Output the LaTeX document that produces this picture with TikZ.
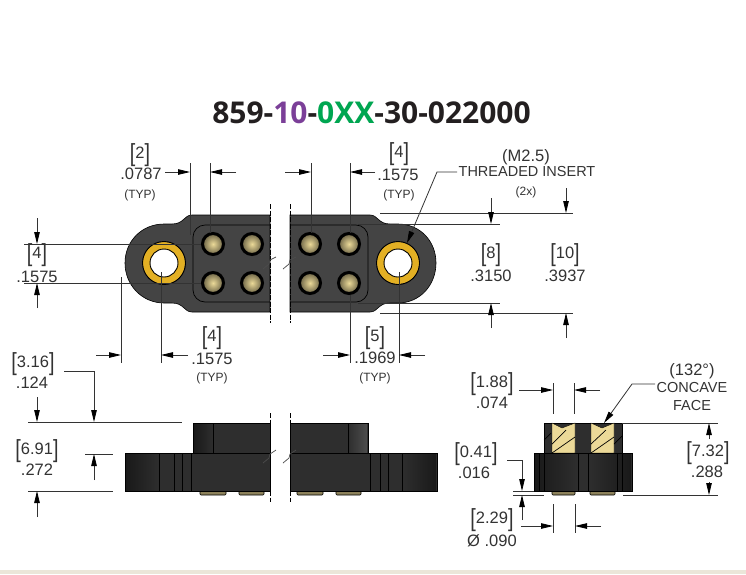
\documentclass[tikz,border=0pt]{standalone}
\usepackage{fontspec}
\setmainfont{Liberation Sans}
\newfontfamily\titlefont{Open Sans}
\usetikzlibrary{arrows.meta, positioning}
\definecolor{bodygray}{HTML}{444444}
\definecolor{sidegray}{HTML}{2E2E2E}
\definecolor{ringgold}{HTML}{E3B024}
\definecolor{brass}{HTML}{EBD998}
\definecolor{dimgray}{HTML}{333333}
\definecolor{bandtan}{HTML}{EBE6D9}
\definecolor{titledark}{HTML}{231F20}
\definecolor{titlepurple}{HTML}{7B3F98}
\definecolor{titlegreen}{HTML}{00A651}
\newcommand{\dimtxt}[1]{\fontsize{16.5}{16.5}\selectfont #1}
\newcommand{\brk}[1]{\fontsize{16.5}{16.5}\selectfont\raisebox{-0.2em}{\scalebox{1.2}[1.5]{[}}#1\raisebox{-0.2em}{\scalebox{1.2}[1.5]{]}}}
\tikzset{
    body/.style={fill=bodygray, draw=black, line width=0.6pt},
    side/.style={fill=sidegray, draw=black, line width=0.6pt},
    recess/.style={draw=black, line width=0.7pt, rounded corners=12pt},
    pinhead/.style={circle, minimum size=21pt, inner sep=0pt, draw=black, line width=3pt, inner color=brass, outer color=brass!45!black},
    ring/.style={circle, minimum size=35pt, inner sep=0pt, fill=white, draw=ringgold, line width=7pt},
    label/.style={inner sep=0pt, text=dimgray, font=\dimtxt{}},
    small/.style={inner sep=0pt, text=dimgray, font=\fontsize{12}{12}\selectfont},
    extline/.style={draw=black!80, line width=0.8pt},
    arrow/.style={draw=black!80, line width=0.8pt, -{Triangle[length=12pt, width=5.5pt, black]}},
    breakline/.style={draw=black, line width=0.7pt, dash pattern=on 5pt off 1.5pt},
    breakmark/.style={draw=black!70, line width=0.7pt},
    pinfoot/.style={fill=brass!60!black, draw=black, line width=0.6pt, rounded corners=1pt},
    hatch/.style={draw=black, line width=0.7pt}
}

\begin{document}
\begin{tikzpicture}[x=1pt, y=-1pt]

    \useasboundingbox (0,0) rectangle (746,574);
    \fill [white] (0,0) rectangle (746,574);
    \fill [bandtan] (0,570) rectangle (746,574);

    % Title
    \node (title) [inner sep=0pt] at (371.5,113) {\titlefont\bfseries\fontsize{30}{30}\selectfont \textcolor{titledark}{859-}\textcolor{titlepurple}{10}\textcolor{titledark}{-}\textcolor{titlegreen}{0XX}\textcolor{titledark}{-30-022000}};

    % Top view
    \draw [body] (270,215) -- (192,215) .. controls (184,215) and (184,224) .. (172,224) -- (164,224) .. controls (142,224) and (125,241) .. (125,263) .. controls (125,285) and (142,303) .. (164,303) -- (172,303) .. controls (184,303) and (184,312) .. (192,312) -- (270,312) -- cycle;
    \draw [body] (290,215) -- (370,215) .. controls (378,215) and (378,224) .. (390,224) -- (398,224) .. controls (420,224) and (436,241) .. (436,263) .. controls (436,285) and (420,303) .. (398,303) -- (390,303) .. controls (378,303) and (378,312) .. (370,312) -- (290,312) -- cycle;
    \draw [recess] (270,225) -- (193,225) -- (193,302) -- (270,302);
    \draw [recess] (290,225) -- (368,225) -- (368,302) -- (290,302);

    \node (holeL) [ring] at (164,263) {};
    \node (holeR) [ring] at (398,263) {};
    \draw [black, line width=0.9pt] (holeL) circle (21.5pt) (holeL) circle (14pt);
    \draw [black, line width=0.9pt] (holeR) circle (21.5pt) (holeR) circle (14pt);

    \node (pinA) [pinhead] at (213,244) {};
    \node (pinB) [pinhead] at (252,244) {};
    \node (pinC) [pinhead] at (213,283) {};
    \node (pinD) [pinhead] at (252,283) {};
    \node (pinE) [pinhead] at (310,244) {};
    \node (pinF) [pinhead] at (349,244) {};
    \node (pinG) [pinhead] at (310,283) {};
    \node (pinH) [pinhead] at (349,283) {};

    \draw [breakline] (270,204) -- (270,323);
    \draw [breakline] (290,204) -- (290,323);
    \draw [breakmark] (263,269) -- (269,264) -- (270,260) -- (276,257);
    \draw [breakmark] (283,269) -- (289,264) -- (290,260) -- (296,257);

    % Side view
    \draw [pinfoot] (200,490) rectangle (226,495);
    \draw [pinfoot] (239,490) rectangle (264,495);
    \draw [pinfoot] (297,490) rectangle (323,495);
    \draw [pinfoot] (336,490) rectangle (361,495);
    \draw [side] (193,423) rectangle (270,453);
    \draw [side] (290,423) rectangle (368,453);
    \draw [side] (125,453) rectangle (270,491);
    \draw [side] (290,453) rectangle (437,491);
    \shade [left color=black!90, right color=sidegray] (126,454) rectangle (159,490);
    \shade [left color=sidegray, right color=black!90] (402,454) rectangle (436,490);
    \shade [left color=black!90, right color=sidegray] (194,424) rectangle (213,452);
    \shade [left color=sidegray, right color=black!70] (348,424) rectangle (367,452);
    \foreach \xline in {159,174,182,191} \draw [black] (\xline,453) -- (\xline,491);
    \foreach \xline in {370,380,388,402} \draw [black] (\xline,453) -- (\xline,491);
    \draw [black] (213,423) -- (213,453);
    \draw [black] (348,423) -- (348,453);
    \draw [breakline] (270,413) -- (270,502);
    \draw [breakline] (290,413) -- (290,502);
    \draw [breakmark] (263,463) -- (269,458) -- (270,454) -- (276,450);
    \draw [breakmark] (283,463) -- (289,458) -- (290,454) -- (296,450);

    % End view
    \draw [pinfoot] (552,490) rectangle (575,495);
    \draw [pinfoot] (590,490) rectangle (615,495);
    \draw [side] (544,423) rectangle (622,453);
    \draw [fill=brass, draw=black] (552,423) -- (562,428) -- (575,423) -- (575,453) -- (552,453) -- cycle;
    \draw [fill=brass, draw=black] (591,423) -- (602,428) -- (614,423) -- (614,453) -- (591,453) -- cycle;
    \draw [side] (534,453) rectangle (632,491);
    \shade [left color=black!90, right color=sidegray] (535,454) rectangle (578,490);
    \shade [left color=sidegray, right color=black!90] (588,454) rectangle (631,490);
    \foreach \xline in {539,544,578,588,617,622} \draw [black] (\xline,453) -- (\xline,491);
    \draw [hatch] (552,444) -- (566,430);
    \draw [hatch] (552,453) -- (575,437);
    \draw [hatch] (591,444) -- (606,430);
    \draw [hatch] (591,453) -- (614,437);
    \draw [hatch] (544,440) -- (551,433);
    \draw [hatch] (614,444) -- (622,436);

    % Extension lines
    \draw [extline] (190,163) -- (190,235);
    \draw [extline] (210,163) -- (210,233);
    \draw [extline] (311,163) -- (311,233);
    \draw [extline] (350,163) -- (350,233);
    \draw [extline] (24,244) -- (201,244);
    \draw [extline] (24,283) -- (201,283);
    \draw [extline] (380,213) -- (573,213);
    \draw [extline] (358,224) -- (500,224);
    \draw [extline] (358,303) -- (500,303);
    \draw [extline] (380,313) -- (573,313);
    \draw [extline] (121,277) -- (121,363);
    \draw [extline] (161,272) -- (161,363);
    \draw [extline] (350,295) -- (350,363);
    \draw [extline] (399,272) -- (399,363);
    \draw [extline] (28,422) -- (182,422);
    \draw [extline] (85,454) -- (113,454);
    \draw [extline] (28,491) -- (113,491);
    \draw [extline] (553,383) -- (553,414);
    \draw [extline] (574,383) -- (574,414);
    \draw [extline] (622,423) -- (718,423);
    \draw [extline] (623,495) -- (718,495);
    \draw [extline] (513,491) -- (534,491);
    \draw [extline] (513,495) -- (544,495);
    \draw [extline] (553,504) -- (553,533);
    \draw [extline] (575,504) -- (575,533);

    % Arrows
    \draw [arrow] (165,172) -- (190,172);
    \draw [arrow] (236,172) -- (210,172);
    \draw [arrow] (285,172) -- (311,172);
    \draw [arrow] (375,172) -- (350,172);
    \draw [arrow] (37,218) -- (37,244);
    \draw [arrow] (37,308) -- (37,283);
    \draw [arrow] (491,198) -- (491,224);
    \draw [arrow] (566,188) -- (566,213);
    \draw [arrow] (491,328) -- (491,303);
    \draw [arrow] (566,338) -- (566,313);
    \draw [arrow] (96,355) -- (121,355);
    \draw [arrow] (188,355) -- (161,355);
    \draw [arrow] (323,355) -- (350,355);
    \draw [arrow] (425,355) -- (399,355);
    \draw [arrow] (37,397) -- (37,422);
    \draw [arrow] (64,371) -- (94,371) -- (94,422);
    \draw [arrow] (94,480) -- (94,454);
    \draw [arrow] (37,517) -- (37,491);
    \draw [arrow] (519,390) -- (553,390);
    \draw [arrow] (600,390) -- (574,390);
    \draw [arrow] (709,439) -- (709,423);
    \draw [arrow] (709,482) -- (709,495);
    \draw [arrow] (507,460) -- (522,460) -- (522,491);
    \draw [arrow] (522,520) -- (522,495);
    \draw [arrow] (521,526) -- (553,526);
    \draw [arrow] (601,526) -- (575,526);
    \draw [arrow] (457,172) -- (437,172) -- (407,243);
    \draw [arrow] (655,384) -- (632,384) -- (604,423);

    % Labels
    \node (twoA) [label] at (140,155) {\brk{2}};
    \node (twoB) [label] at (141,174) {.0787};
    \node (twoC) [small] at (140,195) {(TYP)};
    \node (fourA) [label] at (399,154) {\brk{4}};
    \node (fourB) [label] at (398,175) {.1575};
    \node (fourC) [small] at (399,195) {(TYP)};
    \node (insertA) [label] at (526,157) {(M2.5)};
    \node (insertB) [label, font=\fontsize{14.5}{14.5}\selectfont] at (527,172) {THREADED INSERT};
    \node (insertC) [small] at (526,192) {(2x)};
    \node (pitchA) [label] at (37,255) {\brk{4}};
    \node (pitchB) [label] at (37,277) {.1575};
    \node (wideA) [label] at (491,255) {\brk{8}};
    \node (wideB) [label] at (491,276) {.3150};
    \node (wideC) [label] at (565,255) {\brk{10}};
    \node (wideD) [label] at (565,276) {.3937};
    \node (offA) [label] at (212,338) {\brk{4}};
    \node (offB) [label] at (212,359) {.1575};
    \node (offC) [small] at (212,378) {(TYP)};
    \node (endA) [label] at (375,338) {\brk{5}};
    \node (endB) [label] at (375,358) {.1969};
    \node (endC) [small] at (375,378) {(TYP)};
    \node (stepA) [label] at (33,364) {\brk{3.16}};
    \node (stepB) [label] at (32,383) {.124};
    \node (baseA) [label] at (37,451) {\brk{6.91}};
    \node (baseB) [label] at (37,470) {.272};
    \node (slotA) [label] at (492,384) {\brk{1.88}};
    \node (slotB) [label] at (492,403) {.074};
    \node (gapA) [label] at (476,454) {\brk{0.41}};
    \node (gapB) [label] at (474,473) {.016};
    \node (pinwA) [label] at (492,520) {\brk{2.29}};
    \node (pinwB) [label] at (492,541) {Ø .090};
    \node (faceA) [label] at (692,371) {(132°)};
    \node (faceB) [label, font=\fontsize{14.5}{14.5}\selectfont] at (692,387) {CONCAVE};
    \node (faceC) [label, font=\fontsize{14.5}{14.5}\selectfont] at (692,405) {FACE};
    \node (tallA) [label] at (708,453) {\brk{7.32}};
    \node (tallB) [label] at (707,472) {.288};

\end{tikzpicture}
\end{document}
